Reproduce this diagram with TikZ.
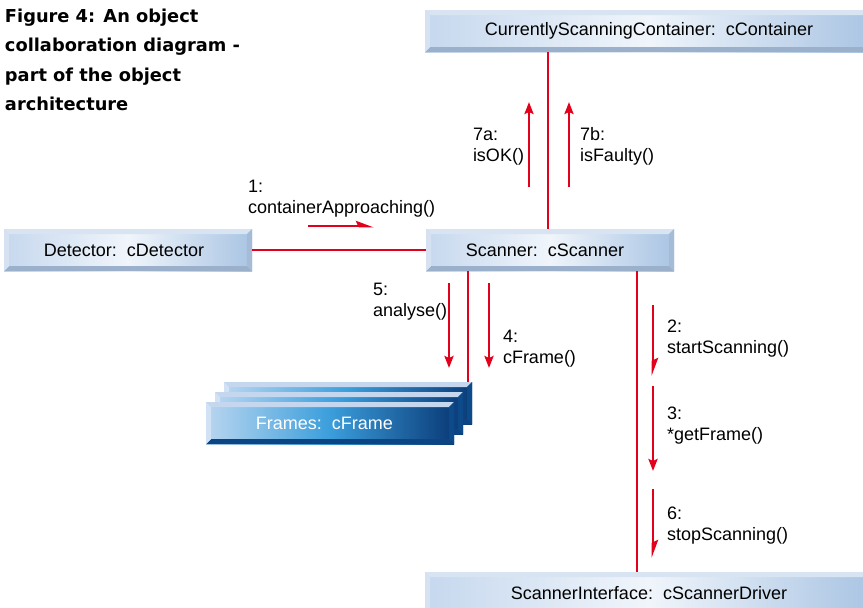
\documentclass[tikz,border=0pt]{standalone}
\usepackage{fontspec}
\setmainfont{Liberation Sans}
\newfontfamily\titlefont{DejaVu Sans}
\usetikzlibrary{arrows.meta}

% message / link colour
\definecolor{msgred}{HTML}{E2001A}
% light object boxes: face gradient and bevels
\definecolor{lfa}{HTML}{C6D8EE}
\definecolor{lfb}{HTML}{F0F5FB}
\definecolor{lfc}{HTML}{A9C4E3}
\definecolor{ltop}{HTML}{D8E4F2}
\definecolor{lbot}{HTML}{9AB0CB}
\definecolor{lleft}{HTML}{D6E2F1}
\definecolor{lright}{HTML}{A6BBD5}
% dark multi-object boxes
\definecolor{dfa}{HTML}{B9D6F0}
\definecolor{dfb}{HTML}{3B9EDB}
\definecolor{dfc}{HTML}{0A3B78}
\definecolor{dtop}{HTML}{C5D7EE}
\definecolor{dbot}{HTML}{0C4584}
\definecolor{dleft}{HTML}{D0E2F3}
\definecolor{dright}{HTML}{0C4A8A}

\newcommand\bevw{5pt}
% gradient face plus four bevel strips, colour prefix #1
\newcommand\bevelpic[1]{%
  \fill[left color=#1fa, right color=#1fc, middle color=#1fb]
    (path picture bounding box.south west) rectangle (path picture bounding box.north east);
  \fill[#1top] (path picture bounding box.north west) -- (path picture bounding box.north east)
    -- ([xshift=-\bevw,yshift=-\bevw]path picture bounding box.north east)
    -- ([xshift=\bevw,yshift=-\bevw]path picture bounding box.north west) -- cycle;
  \fill[#1bot] (path picture bounding box.south west) -- (path picture bounding box.south east)
    -- ([xshift=-\bevw,yshift=\bevw]path picture bounding box.south east)
    -- ([xshift=\bevw,yshift=\bevw]path picture bounding box.south west) -- cycle;
  \fill[#1left] (path picture bounding box.north west)
    -- ([xshift=\bevw,yshift=-\bevw]path picture bounding box.north west)
    -- ([xshift=\bevw,yshift=\bevw]path picture bounding box.south west)
    -- (path picture bounding box.south west) -- cycle;
  \fill[#1right] (path picture bounding box.north east)
    -- ([xshift=-\bevw,yshift=-\bevw]path picture bounding box.north east)
    -- ([xshift=-\bevw,yshift=\bevw]path picture bounding box.south east)
    -- (path picture bounding box.south east) -- cycle;
}

\tikzset{
  every node/.style={inner sep=0pt, outer sep=0pt},
  objbox/.style={minimum width=248pt, minimum height=42pt,
    font=\fontsize{18}{21}\selectfont},
  lightobj/.style={objbox, path picture={\bevelpic{l}}},
  darkobj/.style={objbox, text=white, path picture={\bevelpic{d}}},
  lbl/.style={anchor=base west, align=left, font=\fontsize{18}{21}\selectfont},
  conn/.style={draw=msgred, line width=2.8pt},
  msg/.style={draw=msgred, line width=2.8pt},
  fullhead/.style={-{Stealth[length=12pt,width=9pt,inset=2pt]}},
  halfhead/.style={-{Stealth[harpoon,length=14pt,width=10pt,inset=2pt]}},
}

\begin{document}
\begin{tikzpicture}[x=1pt, y=-1pt]
  \useasboundingbox (0,0) rectangle (863,608);

  % title (anchored at the baseline of its last line)
  \node[anchor=base west, align=left,
        font=\titlefont\bfseries\fontsize{17.8}{29.5}\selectfont] (title) at (5,110.5)
    {Figure 4: An object\\collaboration diagram -\\part of the object\\architecture};

  % objects
  \node[lightobj, minimum width=448pt] (cont) at (649,31) {CurrentlyScanningContainer:\ \ cContainer};
  \node[lightobj] (det) at (128,250) {\hspace*{-8pt}Detector:\ \ cDetector};
  \node[lightobj] (scan) at (550,250) {\hspace*{-10pt}Scanner:\ \ cScanner};
  \node[lightobj, minimum width=448pt] (iface) at (649,593) {ScannerInterface:\ \ cScannerDriver};
  \node[darkobj] (fr3) at (348,403) {};
  \node[darkobj] (fr2) at (339,413) {};
  \node[darkobj] (frames) at (330,423) {\hspace*{-11pt}Frames:\ \ cFrame};

  % links
  \coordinate (xa) at (548,0);
  \coordinate (xb) at (468,0);
  \coordinate (xc) at (637,0);
  \draw[conn] (cont.south -| xa) -- (scan.north -| xa);
  \draw[conn] (det.east) -- (scan.west);
  \draw[conn] (scan.south -| xb) -- (fr3.north -| xb);
  \draw[conn] (scan.south -| xc) -- (iface.north -| xc);

  % messages
  \draw[msg, halfhead] (308,226) -- (374,226);
  \draw[msg, fullhead] (529,187) -- (529,102);
  \draw[msg, fullhead] (569,187) -- (569,102);
  \draw[msg, fullhead] (449,283) -- (449,368);
  \draw[msg, fullhead] (489,283) -- (489,368);
  \draw[msg, halfhead] (653,305) -- (653,376);
  \draw[msg, fullhead] (653,386) -- (653,471);
  \draw[msg, halfhead] (653,489) -- (653,558);

  % message labels (anchored at the baseline of the second line)
  \node[lbl] (m1) at (248,213) {1:\\containerApproaching()};
  \node[lbl] (m7a) at (473,161) {7a:\\isOK()};
  \node[lbl] (m7b) at (580,161) {7b:\\isFaulty()};
  \node[lbl] (m5) at (373,316) {5:\\analyse()};
  \node[lbl] (m4) at (503,363) {4:\\cFrame()};
  \node[lbl] (m2) at (667,353) {2:\\startScanning()};
  \node[lbl] (m3) at (667,440) {3:\\*getFrame()};
  \node[lbl] (m6) at (667,540) {6:\\stopScanning()};
\end{tikzpicture}
\end{document}
